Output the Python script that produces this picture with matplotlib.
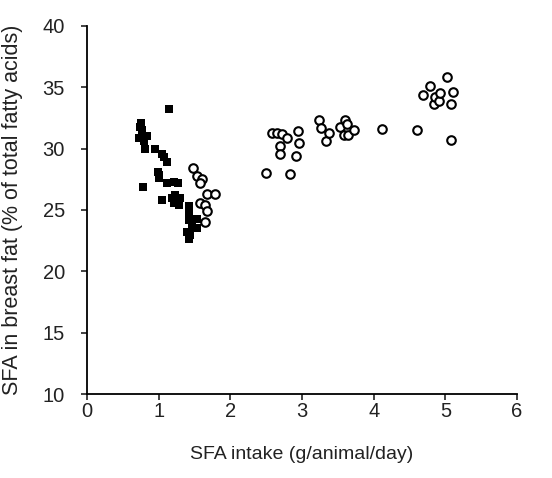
import matplotlib
matplotlib.use("Agg")
import matplotlib.pyplot as plt

plt.rcParams["font.family"] = ["Liberation Sans", "DejaVu Sans"]

# filled squares
sq_x = [1.15, 0.74, 0.77, 0.73, 0.80, 0.84, 0.79, 0.81, 0.78, 0.95, 1.05, 1.07, 1.12,
        0.99, 1.00, 1.01, 1.12, 1.22, 1.27, 1.04, 1.19, 1.23, 1.30, 1.21, 1.28, 1.42,
        1.42, 1.43, 1.53, 1.40, 1.44, 1.42, 1.47, 1.53, 0.76]
sq_y = [33.2, 31.8, 31.5, 30.85, 31.0, 31.0, 30.6, 30.0, 26.9, 30.0, 29.6, 29.35, 28.9,
        28.1, 27.85, 27.6, 27.2, 27.25, 27.2, 25.8, 26.0, 26.2, 26.0, 25.6, 25.4, 25.3,
        24.8, 24.2, 24.3, 23.2, 23.0, 22.6, 23.6, 23.5, 32.1]

# open circles
ci_x = [1.48, 1.54, 1.60, 1.57, 1.67, 1.79, 1.58, 1.65, 1.67, 1.64,
        2.50, 2.58, 2.65, 2.72, 2.79, 2.70, 2.70, 2.83, 2.91, 2.95, 2.96,
        3.24, 3.26, 3.34, 3.38, 3.53, 3.60, 3.63, 3.58, 3.64, 3.72,
        4.12, 4.61, 5.08,
        4.69, 4.79, 4.84, 4.86, 4.91, 4.93, 5.02, 5.10, 5.08]
ci_y = [28.46, 27.8, 27.5, 27.2, 26.3, 26.3, 25.6, 25.4, 24.9, 24.0,
        28.05, 31.3, 31.3, 31.2, 30.9, 30.2, 29.6, 27.9, 29.4, 31.4, 30.5,
        32.3, 31.7, 30.6, 31.3, 31.8, 32.3, 32.0, 31.1, 31.1, 31.5,
        31.6, 31.5, 30.7,
        34.4, 35.1, 33.65, 34.2, 33.9, 34.5, 35.8, 34.65, 33.6]

fig = plt.figure(figsize=(5.52, 4.78), dpi=100)
ax = fig.add_axes([0.1576, 0.1757, 0.779, 0.77])

ax.scatter(sq_x, sq_y, marker="s", s=40, color="black", linewidths=0, zorder=3)
ax.scatter(ci_x, ci_y, marker="o", s=38, facecolors="white", edgecolors="black",
           linewidths=1.5, zorder=3)

ax.set_xlim(0, 6)
ax.set_ylim(10, 40)
ax.set_xticks(range(0, 7))
ax.set_yticks(range(10, 41, 5))
ax.spines["top"].set_visible(False)
ax.spines["right"].set_visible(False)
for s in ("left", "bottom"):
    ax.spines[s].set_linewidth(1.3)
ax.tick_params(axis="both", labelsize=14.5, width=1.2, length=4, direction="out",
               colors="#222222")
ax.tick_params(axis="y", pad=12)
ax.tick_params(axis="x", pad=2)
ax.set_xlabel("SFA intake (g/animal/day)", fontsize=14, labelpad=18, color="#222222")
ax.set_ylabel("SFA in breast fat (% of total fatty acids)", fontsize=15.5,
              labelpad=14, color="#222222")

fig.savefig("out.png", dpi=100)
